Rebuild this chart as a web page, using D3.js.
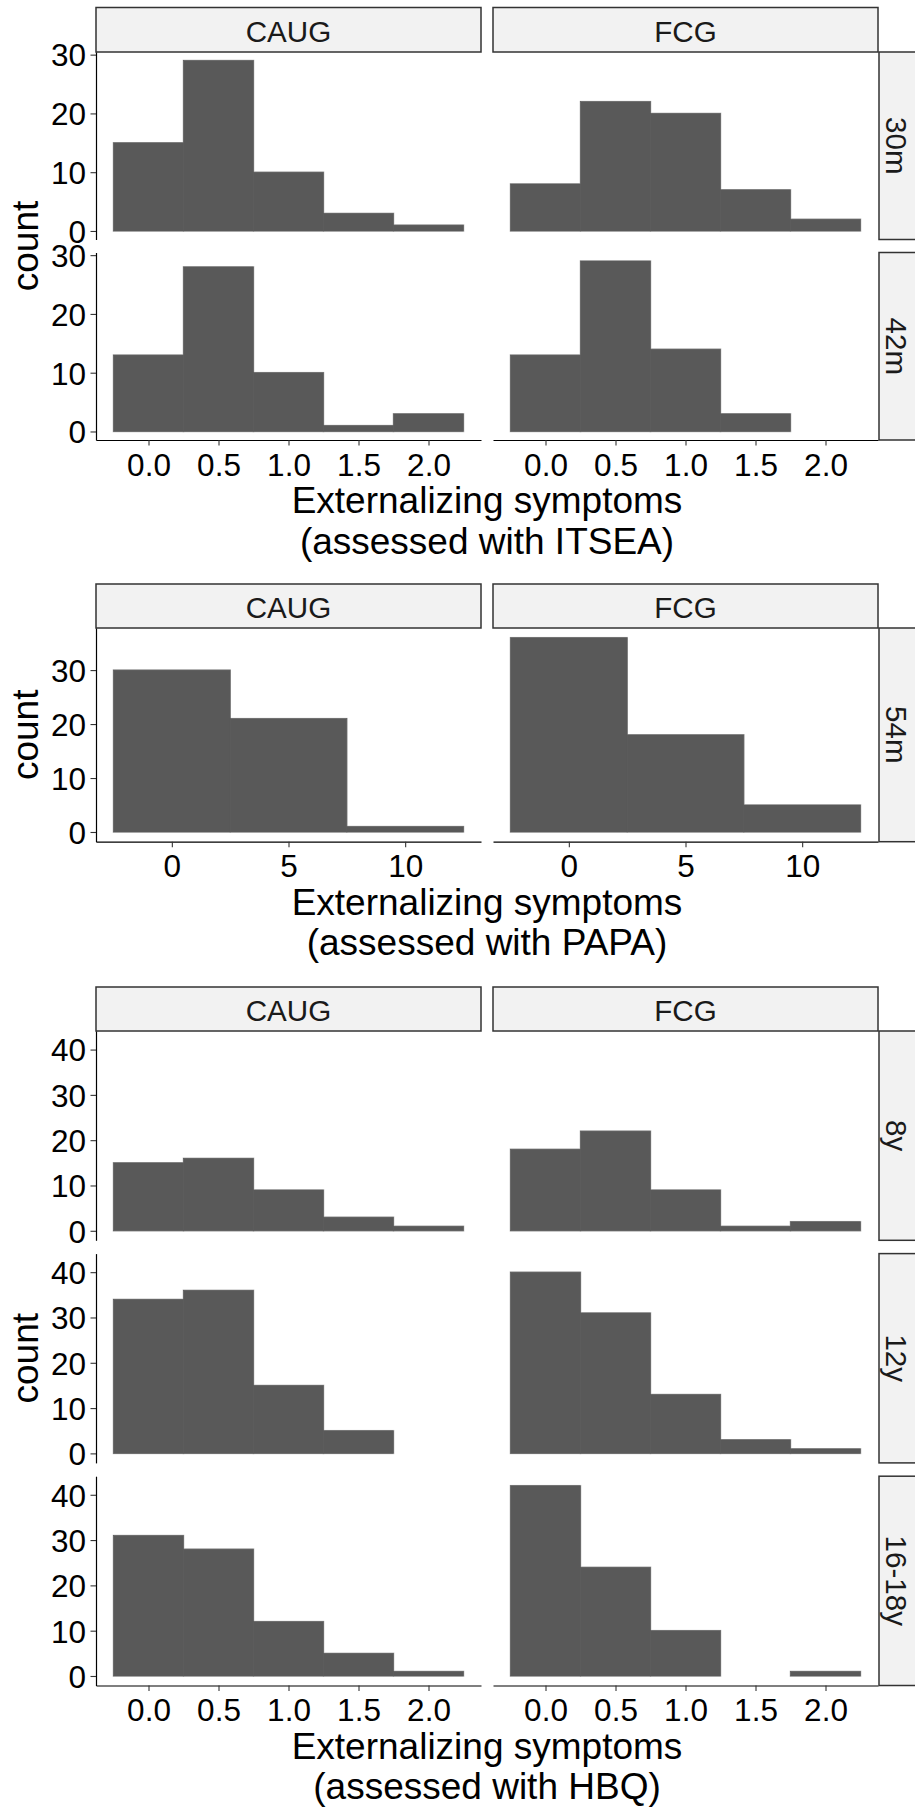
<!DOCTYPE html>
<html>
<head>
<meta charset="utf-8">
<script src="https://cdn.jsdelivr.net/npm/d3@7"></script>
<style>
  html, body { margin: 0; padding: 0; background: #ffffff; }
  svg { display: block; font-family: "Liberation Sans", Arial, Helvetica, sans-serif; }
</style>
</head>
<body>
<svg id="chart" width="915" height="1809"></svg>
<script>
// ---- Facet columns ----
const groups = ["CAUG", "FCG"];

// ---- ITSEA (30 and 42 months) ----
const itseaWaves = ["30m", "42m"];
const itseaBinCenters = [0, 0.5, 1.0, 1.5, 2.0];
const itseaBinWidth = 0.5;
const itseaCAUG = [[15, 29, 10, 3, 1], [13, 28, 10, 1, 3]];
const itseaFCG = [[8, 22, 20, 7, 2], [13, 29, 14, 3, 0]];
const itseaXTicks = [0, 0.5, 1.0, 1.5, 2.0];
const itseaYTicks = [0, 10, 20, 30];

// ---- PAPA (54 months) ----
const papaWaves = ["54m"];
const papaBinCenters = [0, 5, 10];
const papaBinWidth = 5;
const papaCAUG = [[30, 21, 1]];
const papaFCG = [[36, 18, 5]];
const papaXTicks = [0, 5, 10];
const papaYTicks = [0, 10, 20, 30];

// ---- HBQ (8, 12 and 16-18 years) ----
const hbqWaves = ["8y", "12y", "16-18y"];
const hbqBinCenters = [0, 0.5, 1.0, 1.5, 2.0];
const hbqBinWidth = 0.5;
const hbqCAUG = [[15, 16, 9, 3, 1], [34, 36, 15, 5, 0], [31, 28, 12, 5, 1]];
const hbqFCG = [[18, 22, 9, 1, 2], [40, 31, 13, 3, 1], [42, 24, 10, 0, 1]];
const hbqXTicks = [0, 0.5, 1.0, 1.5, 2.0];
const hbqYTicks = [0, 10, 20, 30, 40];

const yTitle = "count";
const xTitle = "Externalizing symptoms";
const instrumentLabels = ["(assessed with ITSEA)", "(assessed with PAPA)", "(assessed with HBQ)"];

// ---- Layout ----
const svg = d3.select("#chart");
const cols = [[96, 481], [493, 878]];
const rightStripX = 879, rightStripW = 38;
const barFill = "#595959";
const stripFill = "#f2f2f2";
const stripStroke = "#333333";
const titleSize = 37;
const stripSize = 29.6;
const tickSize = 31.5;

function drawBlock(b) {
  const g = svg.append("g");
  const series = [b.caug, b.fcg];
  const maxC = d3.max(series.flat(2));
  const lo = d3.min(b.centers) - b.binWidth / 2;
  const hi = d3.max(b.centers) + b.binWidth / 2;
  const xPad = (hi - lo) * 0.05;
  const yPad = maxC * 0.05;
  const nRows = b.waves.length;
  const rowTop = r => b.panelTop + r * (b.panelH + b.gap);

  // column strips
  groups.forEach((grp, c) => {
    const [x0, x1] = cols[c];
    g.append("rect")
      .attr("x", x0).attr("y", b.stripTop)
      .attr("width", x1 - x0).attr("height", b.panelTop - b.stripTop)
      .attr("fill", stripFill).attr("stroke", stripStroke).attr("stroke-width", 1.5);
    g.append("text")
      .attr("x", (x0 + x1) / 2).attr("y", b.panelTop - 10.5)
      .attr("text-anchor", "middle")
      .attr("font-size", stripSize).attr("fill", "#1a1a1a")
      .text(grp);
  });

  b.waves.forEach((wave, r) => {
    const top = rowTop(r), bottom = top + b.panelH;
    const y = d3.scaleLinear().domain([-yPad, maxC + yPad]).range([bottom, top]);

    groups.forEach((grp, c) => {
      const x = d3.scaleLinear().domain([lo - xPad, hi + xPad]).range(cols[c]);
      const bins = b.centers.map((ctr, i) => ({ x0: ctr - b.binWidth / 2, x1: ctr + b.binWidth / 2, n: series[c][r][i] }))
        .filter(d => d.n > 0);

      // soft light edge around the histogram, then the bars on top
      g.append("g").selectAll("rect").data(bins).join("rect")
        .attr("x", d => x(d.x0)).attr("width", d => x(d.x1) - x(d.x0))
        .attr("y", d => y(d.n)).attr("height", d => y(0) - y(d.n))
        .attr("fill", "none").attr("stroke", "#b8b8b8").attr("stroke-width", 1.6);
      g.append("g").selectAll("rect").data(bins).join("rect")
        .attr("x", d => x(d.x0)).attr("width", d => x(d.x1) - x(d.x0))
        .attr("y", d => y(d.n)).attr("height", d => y(0) - y(d.n))
        .attr("fill", barFill).attr("stroke", barFill).attr("stroke-width", 0.6);

      if (c === 0) {
        const ay = g.append("g").attr("transform", `translate(${cols[0][0]},0)`)
          .call(d3.axisLeft(y).tickValues(b.yTicks).tickSize(5.5).tickSizeOuter(0).tickPadding(4.5).tickFormat(d3.format("d")));
        styleAxis(ay);
        ay.selectAll("text").attr("dy", "0.36em");
      }
      if (r === nRows - 1) {
        const ax = g.append("g").attr("transform", `translate(0,${bottom})`)
          .call(d3.axisBottom(x).tickValues(b.xTicks).tickSize(5.5).tickSizeOuter(0).tickPadding(7.8).tickFormat(b.xFormat));
        styleAxis(ax);
      }
    });

    // row strip on the right
    g.append("rect")
      .attr("x", rightStripX).attr("y", top)
      .attr("width", rightStripW).attr("height", b.panelH)
      .attr("fill", stripFill).attr("stroke", stripStroke).attr("stroke-width", 1.5);
    g.append("text")
      .attr("transform", `translate(${rightStripX + 18},${top + b.panelH / 2}) rotate(90)`)
      .attr("text-anchor", "middle").attr("dy", "0.36em")
      .attr("font-size", stripSize).attr("fill", "#1a1a1a")
      .text(wave);
  });

  const lastBottom = rowTop(nRows - 1) + b.panelH;
  const midX = (cols[0][0] + cols[1][1]) / 2;
  const midY = (b.panelTop + lastBottom) / 2;

  g.append("text")
    .attr("transform", `translate(38,${midY}) rotate(-90)`)
    .attr("text-anchor", "middle")
    .attr("font-size", titleSize).attr("fill", "#000")
    .text(yTitle);

  g.append("text")
    .attr("x", midX).attr("y", lastBottom + 73)
    .attr("text-anchor", "middle").attr("font-size", titleSize).attr("fill", "#000")
    .text(xTitle);
  g.append("text")
    .attr("x", midX).attr("y", lastBottom + 113.5)
    .attr("text-anchor", "middle").attr("font-size", titleSize).attr("fill", "#000")
    .text(b.subtitle);
}

function styleAxis(sel) {
  sel.attr("font-family", null).attr("font-size", null);
  sel.select(".domain").attr("stroke", "#000").attr("stroke-width", 1.2);
  sel.selectAll(".tick line").attr("stroke", "#333").attr("stroke-width", 1.1);
  sel.selectAll(".tick text").attr("fill", "#000").attr("font-size", tickSize);
}

drawBlock({
  waves: itseaWaves, centers: itseaBinCenters, binWidth: itseaBinWidth,
  caug: itseaCAUG, fcg: itseaFCG, xTicks: itseaXTicks, yTicks: itseaYTicks,
  xFormat: d3.format(".1f"),
  stripTop: 7.5, panelTop: 52, panelH: 187.5, gap: 13,
  subtitle: instrumentLabels[0]
});

drawBlock({
  waves: papaWaves, centers: papaBinCenters, binWidth: papaBinWidth,
  caug: papaCAUG, fcg: papaFCG, xTicks: papaXTicks, yTicks: papaYTicks,
  xFormat: d3.format("d"),
  stripTop: 584, panelTop: 628, panelH: 213.7, gap: 0,
  subtitle: instrumentLabels[1]
});

drawBlock({
  waves: hbqWaves, centers: hbqBinCenters, binWidth: hbqBinWidth,
  caug: hbqCAUG, fcg: hbqFCG, xTicks: hbqXTicks, yTicks: hbqYTicks,
  xFormat: d3.format(".1f"),
  stripTop: 987, panelTop: 1031, panelH: 209.3, gap: 13.3,
  subtitle: instrumentLabels[2]
});
</script>
</body>
</html>
